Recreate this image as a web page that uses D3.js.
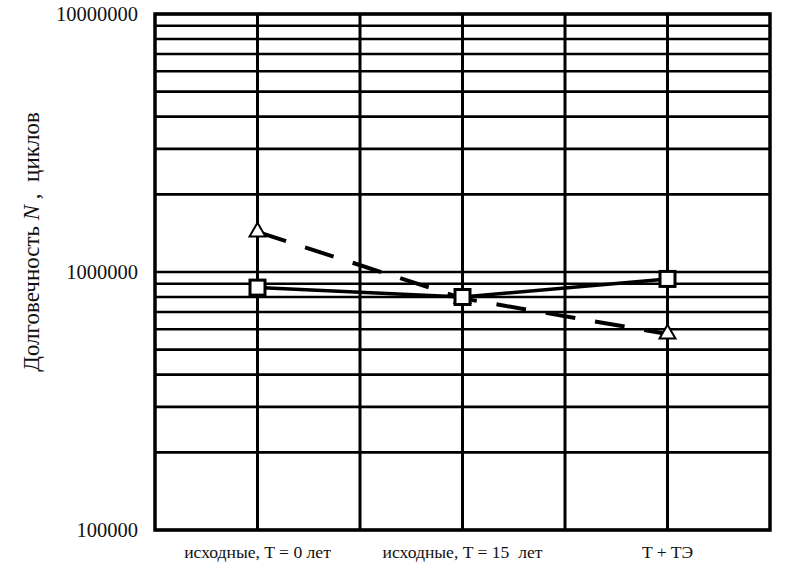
<!DOCTYPE html>
<html>
<head>
<meta charset="utf-8">
<script src="https://cdn.jsdelivr.net/npm/d3@7"></script>
<style>
  body { margin: 0; background: #fff; }
</style>
</head>
<body>
<div id="chart"></div>
<script>
// data
const categories = ["исходные, T = 0 лет", "исходные, T = 15\u00a0 лет", "T + TЭ"];
const squares = [870000, 800000, 940000];     // solid line
const triangles = [1430000, 790000, 575000];  // dashed line
const yTickLabels = ["100000", "1000000", "10000000"];

const serif = "'Liberation Serif', 'Times New Roman', serif";

const margin = { top: 14, right: 34, bottom: 39, left: 155 };
const width = 804 - margin.left - margin.right;
const height = 569 - margin.top - margin.bottom;

const svg = d3.select("#chart").append("svg")
  .attr("width", 804)
  .attr("height", 569)
  .append("g")
  .attr("transform", "translate(" + margin.left + "," + margin.top + ")");

const x = d3.scaleLinear().domain([0, 6]).range([0, width]);
const y = d3.scaleLog().domain([100000, 10000000]).range([height, 0]);
const catX = i => x(i * 2 + 1);

// horizontal grid (every log tick)
svg.append("g")
  .selectAll("line")
  .data(y.ticks())
  .enter()
  .append("line")
  .attr("x1", 0).attr("x2", width)
  .attr("y1", d => y(d)).attr("y2", d => y(d))
  .attr("stroke", "#000")
  .attr("stroke-width", 2.6);

// vertical grid
svg.append("g")
  .selectAll("line")
  .data(d3.range(1, 6))
  .enter()
  .append("line")
  .attr("x1", d => x(d)).attr("x2", d => x(d))
  .attr("y1", 0).attr("y2", height)
  .attr("stroke", "#000")
  .attr("stroke-width", 3);

// frame
svg.append("rect")
  .attr("width", width).attr("height", height)
  .attr("fill", "none")
  .attr("stroke", "#000")
  .attr("stroke-width", 3.5);

// y labels
svg.append("g")
  .selectAll("text")
  .data(yTickLabels)
  .enter()
  .append("text")
  .attr("x", -17)
  .attr("y", d => y(+d))
  .attr("dy", "0.35em")
  .attr("text-anchor", "end")
  .attr("font-family", serif)
  .attr("fill", "#111")
  .style("font-size", "20.5px")
  .text(d => d);

// x labels (the original print is a bit wider than Times)
svg.append("g")
  .selectAll("text")
  .data(categories)
  .enter()
  .append("text")
  .attr("transform", (d, i) => "translate(" + catX(i) + "," + (height + 28) + ") scale(1.1,1)")
  .attr("text-anchor", "middle")
  .attr("font-family", serif)
  .attr("fill", "#111")
  .style("font-size", "16px")
  .text(d => d);

// y title
const title = svg.append("text")
  .attr("transform", "translate(" + (-116) + "," + (242 - margin.top) + ") rotate(-90)")
  .attr("text-anchor", "middle")
  .attr("font-family", serif)
  .attr("fill", "#111")
  .style("font-size", "23px");
title.append("tspan").text("Долговечность ");
title.append("tspan").style("font-style", "italic").text("N");
title.append("tspan").text(" ,\u00a0 циклов");

const line = d3.line()
  .x((d, i) => catX(i))
  .y(d => y(d));

// dashed series
svg.append("path")
  .datum(triangles)
  .attr("d", line)
  .attr("fill", "none")
  .attr("stroke", "#000")
  .attr("stroke-width", 4)
  .attr("stroke-dasharray", "30 20");

// solid series
svg.append("path")
  .datum(squares)
  .attr("d", line)
  .attr("fill", "none")
  .attr("stroke", "#000")
  .attr("stroke-width", 3.5);

// triangle markers
svg.append("g")
  .selectAll("path")
  .data(triangles)
  .enter()
  .append("path")
  .attr("transform", (d, i) => "translate(" + catX(i) + "," + y(d) + ")")
  .attr("d", d3.symbol().type(d3.symbolTriangle).size(110))
  .attr("fill", "#fff")
  .attr("stroke", "#000")
  .attr("stroke-width", 2);

// square markers
svg.append("g")
  .selectAll("rect")
  .data(squares)
  .enter()
  .append("rect")
  .attr("x", (d, i) => catX(i) - 7.5)
  .attr("y", d => y(d) - 7.5)
  .attr("width", 15)
  .attr("height", 15)
  .attr("fill", "#fff")
  .attr("stroke", "#000")
  .attr("stroke-width", 3);
</script>
</body>
</html>
